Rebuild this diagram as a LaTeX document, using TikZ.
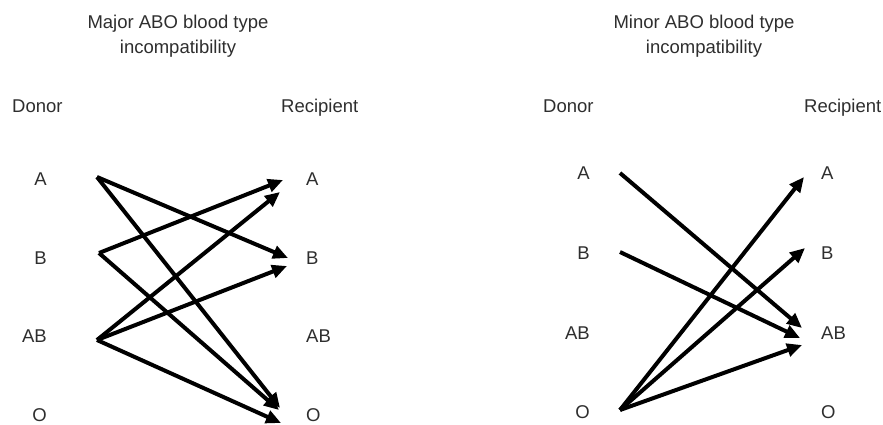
\documentclass[tikz,border=0pt]{standalone}
\usepackage{fontspec}
\setmainfont{Liberation Sans}
\usetikzlibrary{arrows.meta}
\definecolor{txt}{HTML}{2E2E2E}
\begin{document}
\begin{tikzpicture}[x=1pt,y=-1pt,
  lbl/.style={text=txt,font=\fontsize{18.5}{25}\selectfont,inner sep=0pt,anchor=base},
  lr/.style={lbl,anchor=base east},
  ll/.style={lbl,anchor=base west},
  arr/.style={line width=4pt,-{Triangle[length=15pt,width=13pt]}}]
\useasboundingbox (0,0) rectangle (883,424);
% titles
\node[lbl] (t1a) at (178,28) {Major ABO blood type};
\node[lbl] (t1b) at (178,53) {incompatibility};
\node[lbl] (t2a) at (704,28) {Minor ABO blood type};
\node[lbl] (t2b) at (704,53) {incompatibility};
\node[ll] (d1) at (12,112) {Donor};
\node[ll] (r1) at (281,112) {Recipient};
\node[ll] (d2) at (543,112) {Donor};
\node[ll] (r2) at (804,112) {Recipient};
% left labels
\node[lr] (lA) at (47,185) {A};
\node[lr] (lB) at (47,264) {B};
\node[lr] (lAB) at (47,342) {AB};
\node[lr] (lO) at (47,421) {O};
\node[ll] (lrA) at (306,185) {A};
\node[ll] (lrB) at (306,264) {B};
\node[ll] (lrAB) at (306,342) {AB};
\node[ll] (lrO) at (306,421) {O};
% right labels
\node[lr] (rA) at (590,179) {A};
\node[lr] (rB) at (590,259) {B};
\node[lr] (rAB) at (590,339) {AB};
\node[lr] (rO) at (590,418) {O};
\node[ll] (rrA) at (821,179) {A};
\node[ll] (rrB) at (821,259) {B};
\node[ll] (rrAB) at (821,339) {AB};
\node[ll] (rrO) at (821,418) {O};
% left coordinates
\coordinate (sA) at (97,177);
\coordinate (sB) at (99,253);
\coordinate (sAB) at (97,340);
\coordinate (eA2B) at (288,258);
\coordinate (eA2O) at (280,408);
\coordinate (eB2A) at (283,180);
\coordinate (eB2O) at (279,410);
\coordinate (eAB2A) at (280,192);
\coordinate (eAB2B) at (287,266);
\coordinate (eAB2O) at (281,423);
\draw[arr] (sA) -- (eA2B);
\draw[arr] (sA) -- (eA2O);
\draw[arr] (sB) -- (eB2A);
\draw[arr] (sB) -- (eB2O);
\draw[arr] (sAB) -- (eAB2A);
\draw[arr] (sAB) -- (eAB2B);
\draw[arr] (sAB) -- (eAB2O);
% right coordinates
\coordinate (qA) at (620,173);
\coordinate (qB) at (620,252);
\coordinate (qO) at (620,410);
\coordinate (fA2AB) at (802,328);
\coordinate (fB2AB) at (800,338);
\coordinate (fO2A) at (804,177);
\coordinate (fO2B) at (805,248);
\coordinate (fO2AB) at (802,345);
\draw[arr] (qA) -- (fA2AB);
\draw[arr] (qB) -- (fB2AB);
\draw[arr] (qO) -- (fO2A);
\draw[arr] (qO) -- (fO2B);
\draw[arr] (qO) -- (fO2AB);
\end{tikzpicture}
\end{document}
